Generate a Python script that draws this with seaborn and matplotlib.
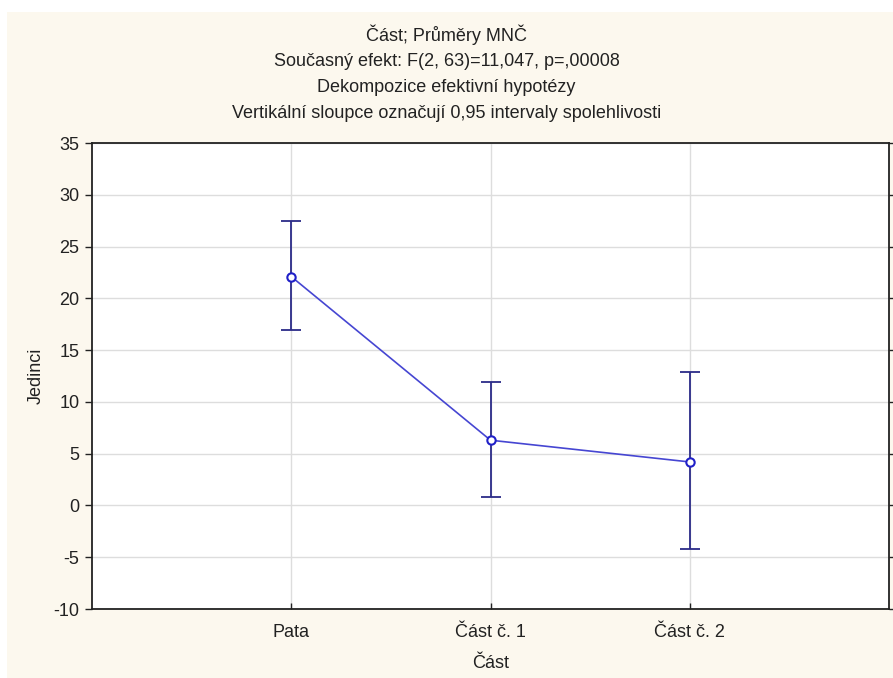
import matplotlib
matplotlib.use("Agg")
import matplotlib.pyplot as plt
import seaborn as sns
import pandas as pd
from matplotlib.patches import Rectangle

categories = ["Pata", "Část č. 1", "Část č. 2"]
means = [22.1, 6.3, 4.2]
ci_low = [16.9, 0.8, -4.2]
ci_high = [27.5, 11.9, 12.9]
y_ticks = [-10, -5, 0, 5, 10, 15, 20, 25, 30, 35]

title_lines = [
    "Část; Průměry MNČ",
    "Současný efekt: F(2, 63)=11,047, p=,00008",
    "Dekompozice efektivní hypotézy",
    "Vertikální sloupce označují 0,95 intervaly spolehlivosti",
]

sns.set_style("white")
plt.rcParams["font.family"] = ["Liberation Sans", "DejaVu Sans"]
FS = 13

fig = plt.figure(figsize=(8.93, 6.78), dpi=100, facecolor="white")
fig.patches.append(Rectangle((7 / 893, 0), 1, 1 - 12 / 678, transform=fig.transFigure,
                             facecolor="#FCF8EE", edgecolor="none", zorder=-10))
ax = fig.add_axes([92 / 893, 1 - 609 / 678, (889 - 92) / 893, (609 - 143) / 678])
ax.set_facecolor("white")

df = pd.DataFrame({"pos": range(len(categories)), "mean": means})
lo = [m - l for m, l in zip(means, ci_low)]
hi = [h - m for m, h in zip(means, ci_high)]

ax.errorbar(df["pos"], df["mean"], yerr=[lo, hi], fmt="none", ecolor="#2B2B88",
            elinewidth=1.3, capsize=7, capthick=1.3, zorder=3)
sns.lineplot(data=df, x="pos", y="mean", ax=ax, color="#4646D2", linewidth=1.2,
             marker="o", markersize=6, markerfacecolor="white",
             markeredgecolor="#2020C8", markeredgewidth=1.5, zorder=4)

ax.set_xlim(-1, 3)
ax.set_ylim(-10, 35)
ax.set_yticks(y_ticks)
ax.set_yticklabels([str(v) for v in y_ticks], fontsize=FS, color="#222222")
ax.set_xticks(range(len(categories)))
ax.set_xticklabels(categories, fontsize=FS, color="#222222")
ax.grid(True, color="#DDDDDD", linewidth=1.0)
ax.set_axisbelow(True)
for s in ax.spines.values():
    s.set_color("#222222")
    s.set_linewidth(1.3)
    s.set_visible(True)
ax.tick_params(axis="y", left=True, direction="out", length=5, width=1, colors="#222222", pad=4)
ax.tick_params(axis="y", which="major", right=True)
ax.tick_params(axis="x", bottom=True, direction="in", length=4, width=1, colors="#222222", pad=11)
ax.set_xlabel("Část", fontsize=FS, labelpad=10, color="#222222")
ax.set_ylabel("Jedinci", fontsize=FS, labelpad=6, color="#222222")

for i, line in enumerate(title_lines):
    fig.text(0.5, 1 - (35 + 26 * i) / 678, line, ha="center", va="center", fontsize=FS, color="#222222")

fig.savefig("out.png", dpi=100, facecolor=fig.get_facecolor())
